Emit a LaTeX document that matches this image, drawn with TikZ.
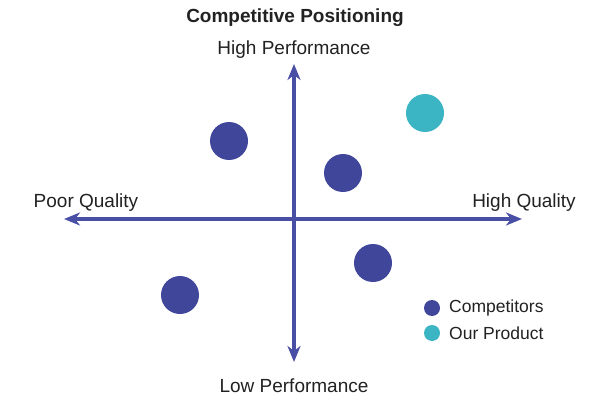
\documentclass[tikz,border=0pt]{standalone}
\usepackage{fontspec}
\setmainfont{Liberation Sans}
\usetikzlibrary{arrows.meta}
\definecolor{axiscol}{HTML}{4A4FA6}
\definecolor{compcol}{HTML}{40469A}
\definecolor{ourcol}{HTML}{3BB4C3}
\definecolor{txtcol}{HTML}{222222}
\begin{document}
\begin{tikzpicture}[x=1pt,y=-1pt,
  axis/.style={draw=axiscol,line width=3.6pt,-{Stealth[length=16pt,width=13pt,inset=5pt]}},
  comp/.style={circle,fill=compcol,minimum size=38pt,inner sep=0pt},
  ours/.style={circle,fill=ourcol,minimum size=38pt,inner sep=0pt},
  legdot/.style={circle,minimum size=16pt,inner sep=0pt},
  lbl/.style={font=\fontsize{19}{22}\selectfont,text=txtcol,inner sep=0pt},
  legtxt/.style={font=\fontsize{17.5}{20}\selectfont,text=txtcol,inner sep=0pt,anchor=west}]
\useasboundingbox[fill=white] (0,0) rectangle (600,420);
\node[font=\bfseries\fontsize{19}{22}\selectfont,text=txtcol] (title) at (295,18) {Competitive Positioning};
\coordinate (c) at (294,219);
\coordinate (top) at (294,64);
\coordinate (bot) at (294,362);
\coordinate (left) at (64,219);
\coordinate (right) at (522,219);
\draw[axis] (c) -- (top);
\draw[axis] (c) -- (bot);
\draw[axis] (c) -- (left);
\draw[axis] (c) -- (right);
\node[lbl] (hp) at (294,50) {High Performance};
\node[lbl] (lp) at (294,386) {Low Performance};
\node[lbl] (pq) at (86,203) {Poor Quality};
\node[lbl] (hq) at (524,203) {High Quality};
\node[comp] (c1) at (229,141) {};
\node[comp] (c2) at (343,173) {};
\node[comp] (c3) at (373,263) {};
\node[comp] (c4) at (180,295) {};
\node[ours] (o1) at (425,113) {};
\node[legdot,fill=compcol] (l1) at (432,308) {};
\node[legdot,fill=ourcol] (l2) at (432,333) {};
\node[legtxt] (t1) at (449,308) {Competitors};
\node[legtxt] (t2) at (449,333) {Our Product};
\end{tikzpicture}
\end{document}
